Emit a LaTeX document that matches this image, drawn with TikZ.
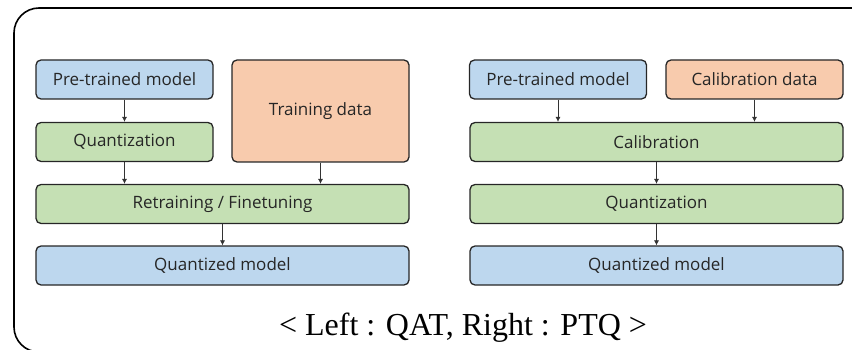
\documentclass[tikz,border=0pt]{standalone}
\usepackage{fontspec}
\setmainfont{Liberation Serif}
\newfontfamily\boxfont{Open Sans}
\usepackage{tikz}
\usetikzlibrary{arrows.meta}

\definecolor{boxblue}{HTML}{BDD7EE}
\definecolor{boxgreen}{HTML}{C5E0B4}
\definecolor{boxorange}{HTML}{F8CBAD}

\tikzset{
	blk/.style={draw=black!85, line width=1.3pt, rounded corners=5pt, inner sep=0pt, text=black!85, font=\boxfont\fontsize{17}{19}\selectfont},
	small/.style={blk, minimum width=177pt, minimum height=39pt},
	wide/.style={blk, minimum width=373pt, minimum height=39pt},
	flow/.style={-{Latex[length=5pt,width=5pt]}, line width=0.6pt, black!80}
}

\begin{document}
\begin{tikzpicture}[x=1pt, y=-1pt]
			\useasboundingbox (0,0) rectangle (852,350);
			\begin{scope}
				\clip (0,0) rectangle (852,350);
				\draw[line width=1.6pt, rounded corners=25pt] (14,8) rectangle (880,352);
			\end{scope}
			
			\node[small, fill=boxblue] (lpre) at (124.5,79.5) {Pre-trained model};
			\node[small, fill=boxgreen] (lquant) at (124.5,142) {Quantization};
			\node[blk, fill=boxorange, minimum width=177pt, minimum height=102pt] (ldata) at (320.5,111) {Training data};
			\node[wide, fill=boxgreen] (lretrain) at (222.5,204) {Retraining / Finetuning};
			\node[wide, fill=boxblue] (lout) at (222.5,265.5) {Quantized model};
			
			\draw[flow] (lpre) -- (lquant);
			\draw[flow] (lquant.south) -- (lquant.south |- lretrain.north);
			\draw[flow] (ldata.south) -- (ldata.south |- lretrain.north);
			\draw[flow] (lretrain) -- (lout);
			
			\node[small, fill=boxblue] (rpre) at (558,79.5) {Pre-trained model};
			\node[small, fill=boxorange] (rdata) at (754.5,79.5) {Calibration data};
			\node[wide, fill=boxgreen] (rcalib) at (656.5,142) {Calibration};
			\node[wide, fill=boxgreen] (rquant) at (656.5,204) {Quantization};
			\node[wide, fill=boxblue] (rout) at (656.5,265.5) {Quantized model};
			
			\draw[flow] (rpre.south) -- (rpre.south |- rcalib.north);
			\draw[flow] (rdata.south) -- (rdata.south |- rcalib.north);
			\draw[flow] (rcalib) -- (rquant);
			\draw[flow] (rquant) -- (rout);
			
			\node[anchor=base, font=\fontsize{32}{36}\selectfont] (caption) at (463,335) {< Left : QAT, Right : PTQ >};
			
		\end{tikzpicture}
\end{document}
